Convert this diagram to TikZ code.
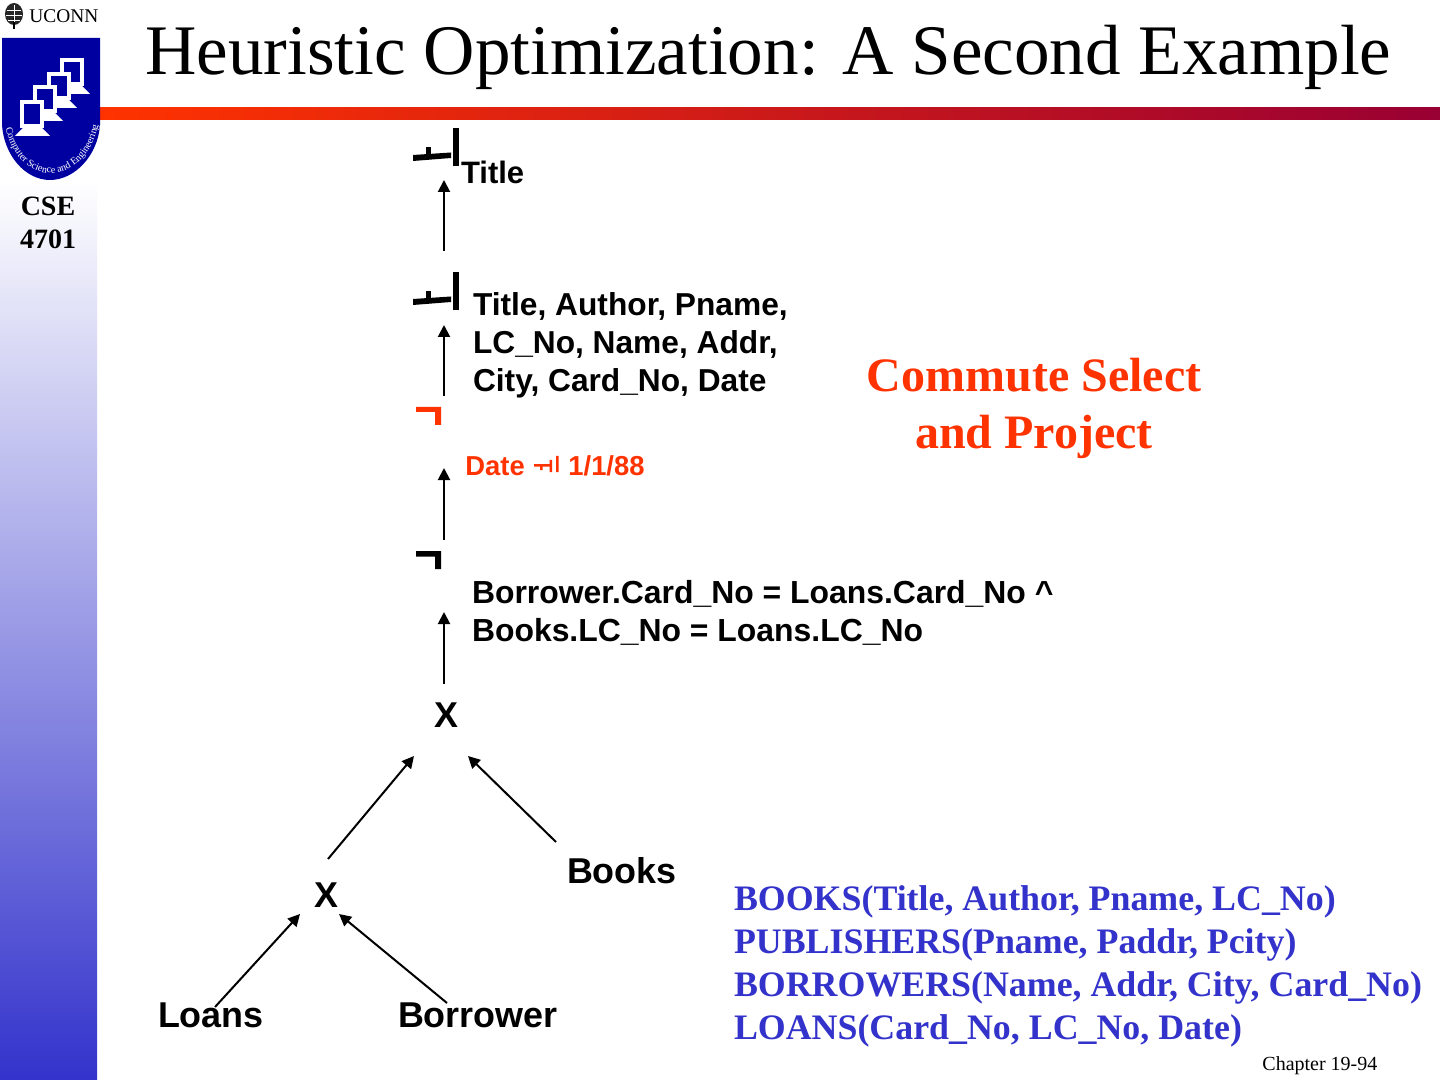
\documentclass[tikz,border=0pt]{standalone}
\usepackage{fontspec}
\setmainfont{Liberation Serif}
\setsansfont{Liberation Sans}
\usetikzlibrary{arrows.meta,decorations.text}
\definecolor{hot}{HTML}{FF3300}
\definecolor{deepblue}{HTML}{3333CC}
\definecolor{shield}{HTML}{0000A0}
\definecolor{wine}{HTML}{990033}
\tikzset{
 x=0.5pt,y=-0.5pt,
 lab/.style={font=\sffamily\bfseries\fontsize{15.85}{15.85}\selectfont,anchor=base west,inner sep=0pt,outer sep=0pt,text=black},
 big/.style={font=\sffamily\bfseries\fontsize{17.95}{17.95}\selectfont,anchor=base west,inner sep=0pt,outer sep=0pt},
 rel/.style={font=\bfseries\fontsize{17.93}{17.93}\selectfont,anchor=base west,inner sep=0pt,outer sep=0pt,text=deepblue},
 sel/.style={font=\sffamily\bfseries\fontsize{13.7}{13.7}\selectfont,anchor=base west,inner sep=0pt,text=hot},
 conn/.style={draw=black,line width=1pt,-{Triangle[length=6pt,width=6pt]}},
}
\begin{document}
\begin{tikzpicture}
\useasboundingbox (0,0) rectangle (1440,1080);
\fill[white] (0,0) rectangle (1440,1080);
% sidebar
\shade[top color=white,bottom color=deepblue] (0,180) rectangle (97,1080);
% top rule
\shade[left color=hot,right color=wine,shading=axis,shading angle=90] (100,108) rectangle (1440,120);
% UCONN
\node[inner sep=0pt,anchor=base west,font=\fontsize{9.7}{9.7}\selectfont] (uconn) at (29,23) {UCONN};
\fill[black!85] (14,14) ellipse (9 and 11);
\draw[black,line width=0.7pt] (14,18)--(14,29);
\draw[white,line width=0.3pt] (14,5)--(14,22) (7,10)--(21,10) (6,15)--(22,15) (8,20)--(20,20);
% shield
\fill[shield] (2,38) -- (100,38) -- (100,125) .. controls (98,155) and (75,180) .. (50,180) .. controls (25,180) and (4,155) .. (2,125) -- cycle;
\path[decorate,decoration={text along path,text align=center,text={|\fontsize{5}{5}\selectfont\color{white}|Computer Science and Engineering}}] (5,125) .. controls (11,156) and (30,174) .. (52,173) .. controls (74,172) and (93,154) .. (99,122);
% monitors, back to front
\foreach \dx/\dy in {60/58,47/72,33/85,20/100}{
 \fill[white] (\dx,\dy) rectangle ++(24,28);
 \fill[shield] (\dx+4,\dy+4) rectangle ++(16,20);
 \fill[white] (\dx+3,\dy+28) -- (\dx+22,\dy+28) -- (\dx+30,\dy+36) -- (\dx-5,\dy+36) -- cycle;
}
\node[font=\bfseries\fontsize{14}{14}\selectfont,inner sep=0pt] (cse) at (48,206) {CSE};
\node[font=\bfseries\fontsize{14}{14}\selectfont,inner sep=0pt] (num) at (48,239) {4701};
% title
\node[inner sep=0pt,anchor=base west,font=\fontsize{35.55}{35.55}\selectfont] (ttl) at (145,75) {Heuristic Optimization: A Second Example};
% project symbols
\foreach \oy in {0,144}{
 \fill[black] (413,155+\oy) -- (451,152.5+\oy) -- (451,158+\oy) -- (413,161+\oy) -- cycle;
 \fill[black] (426,147+\oy) rectangle (431,157+\oy);
 \fill[black] (453,128+\oy) rectangle (459,166+\oy);
}
% select symbols
\fill[hot] (416,407) rectangle (441,412) (435,407) rectangle (441,425);
\fill[black] (416,551) rectangle (441,556.5) (435,551) rectangle (441,569);
% labels
\node[lab,font=\sffamily\bfseries\fontsize{15.5}{15.5}\selectfont] (t1) at (461,184) {Title};
\node[lab] (t2a) at (473,315.5) {Title, Author, Pname,};
\node[lab] (t2b) at (473,353.5) {LC\_No, Name, Addr,};
\node[lab] (t2c) at (473,391.5) {City, Card\_No, Date};
\node[sel] (d1) at (465,475) {Date};
\node[sel] (d2) at (568,475) {1/1/88};
\fill[hot] (534,464) rectangle (552,466.5) (540,464) rectangle (542.5,470) (549.5,460) rectangle (552,472) (556,456) rectangle (558.5,472);
\node[lab,font=\sffamily\bfseries\fontsize{15.95}{15.95}\selectfont] (c1) at (472,603.5) {Borrower.Card\_No = Loans.Card\_No \textasciicircum};
\node[lab,font=\sffamily\bfseries\fontsize{15.95}{15.95}\selectfont] (c2) at (472,641.5) {Books.LC\_No = Loans.LC\_No};
\node[big,anchor=base] (x1) at (446,727) {X};
\node[big,anchor=base] (x2) at (326,907) {X};
\node[big] (books) at (567,883) {Books};
\node[big] (loans) at (158,1027) {Loans};
\node[big] (borrower) at (398,1027) {Borrower};
\node[font=\bfseries\fontsize{24}{28.5}\selectfont,align=center,text=hot,inner sep=0pt] (note) at (1034,408.5) {Commute Select\\and Project};
\node[rel] (r1) at (734,910) {BOOKS(Title, Author, Pname, LC\_No)};
\node[rel] (r2) at (734,953) {PUBLISHERS(Pname, Paddr, Pcity)};
\node[rel] (r3) at (734,996) {BORROWERS(Name, Addr, City, Card\_No)};
\node[rel] (r4) at (734,1039) {LOANS(Card\_No, LC\_No, Date)};
\node[font=\fontsize{10}{10}\selectfont,anchor=base west,inner sep=0pt] (pg) at (1262,1070) {Chapter 19-94};
% connectors
\coordinate (a1s) at (444,251); \coordinate (a1e) at (444,180);
\coordinate (a2s) at (444,396); \coordinate (a2e) at (444,325);
\coordinate (a3s) at (444,540); \coordinate (a3e) at (444,468);
\coordinate (a4s) at (444,684); \coordinate (a4e) at (444,612);
\coordinate (a5s) at (328,859); \coordinate (a5e) at (414,756);
\coordinate (a6s) at (556,842); \coordinate (a6e) at (468,756);
\coordinate (a7s) at (215,1007); \coordinate (a7e) at (300,914);
\coordinate (a8s) at (447,1003); \coordinate (a8e) at (339,914);
\foreach \i in {1,...,8} \draw[conn] (a\i s) -- (a\i e);
\end{tikzpicture}
\end{document}
